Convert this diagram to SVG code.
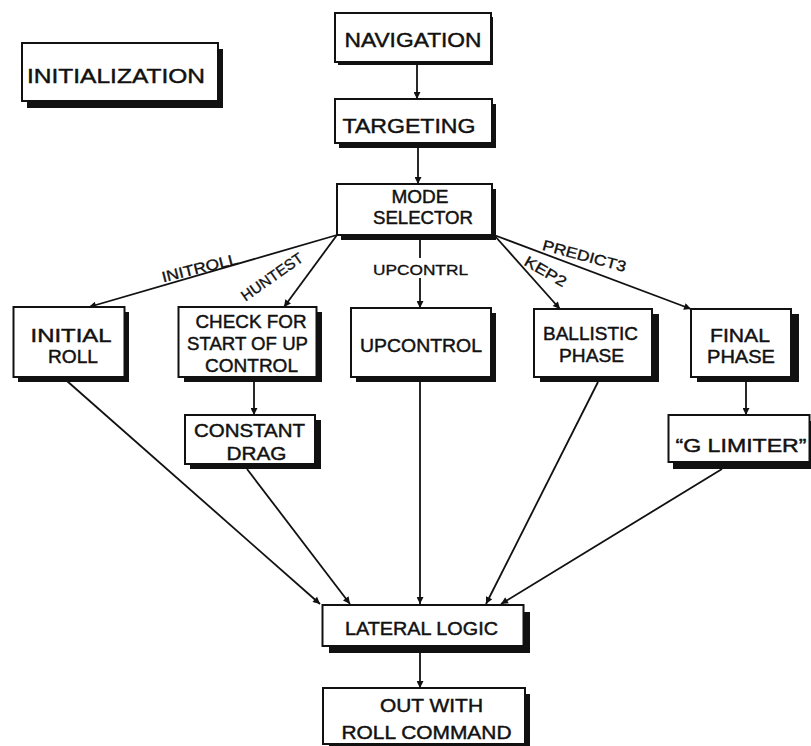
<svg xmlns="http://www.w3.org/2000/svg" width="811" height="746" viewBox="0 0 811 746">
  <defs>
    <marker id="arrow" viewBox="0 0 10 10" refX="10" refY="5" markerWidth="9" markerHeight="7" markerUnits="userSpaceOnUse" orient="auto">
      <path d="M0,0 L10,5 L0,10 z" fill="#111"/>
    </marker>
  </defs>
  <style>
    .shadow { fill: #111; }
    .box { fill: #fff; stroke: #111; stroke-width: 2; }
    .t { font-family: "Liberation Sans", Arial, sans-serif; font-size: 19px; fill: #111; stroke: #111; stroke-width: 0.45; text-anchor: middle; }
    .big { font-size: 21px; }
    .lbl { font-family: "Liberation Sans", Arial, sans-serif; font-size: 15px; fill: #111; stroke: #111; stroke-width: 0.35; text-anchor: middle; }
    .link { fill: none; stroke: #111; stroke-width: 1.8; }
    .link.arr { marker-end: url(#arrow); }
  </style>
  <rect width="811" height="746" fill="#fff"/>

  <!-- connectors -->
  <g id="connectors">
    <line class="link arr" x1="417" y1="64" x2="417" y2="99"/>
    <line class="link arr" x1="418" y1="145" x2="418" y2="184"/>
    <line class="link arr" x1="337" y1="235" x2="89" y2="307"/>
    <line class="link arr" x1="337" y1="235" x2="284" y2="307"/>
    <line class="link" x1="420" y1="235" x2="420" y2="258"/>
    <line class="link arr" x1="420" y1="278" x2="420" y2="308"/>
    <line class="link arr" x1="494" y1="235" x2="560" y2="309"/>
    <line class="link arr" x1="494" y1="235" x2="691" y2="309"/>
    <line class="link arr" x1="254" y1="382" x2="254" y2="415"/>
    <line class="link arr" x1="746" y1="382" x2="746" y2="415"/>
    <line class="link arr" x1="67" y1="381" x2="320" y2="604"/>
    <line class="link arr" x1="247" y1="469" x2="350" y2="604"/>
    <line class="link arr" x1="420" y1="382" x2="420" y2="604"/>
    <line class="link arr" x1="598" y1="382" x2="486" y2="604"/>
    <line class="link arr" x1="722" y1="469" x2="501" y2="604"/>
    <line class="link arr" x1="420" y1="653" x2="420" y2="688"/>

    <!-- branch labels -->
    <text class="lbl" transform="translate(201,273) rotate(-14)" textLength="78" lengthAdjust="spacingAndGlyphs">INITROLL</text>
    <text class="lbl" transform="translate(275,281) rotate(-35)" textLength="72" lengthAdjust="spacingAndGlyphs">HUNTEST</text>
    <text class="lbl" x="420.5" y="275" textLength="95" lengthAdjust="spacingAndGlyphs">UPCONTRL</text>
    <text class="lbl" transform="translate(583,261) rotate(15)" textLength="86" lengthAdjust="spacingAndGlyphs">PREDICT3</text>
    <text class="lbl" transform="translate(543,276) rotate(30)" textLength="46" lengthAdjust="spacingAndGlyphs">KEP2</text>
  </g>

  <g id="initialization">
    <rect class="shadow" x="27" y="49" width="196" height="59"/>
    <rect class="box" x="22" y="43" width="196" height="58"/>
    <text class="t big" x="116" y="83" textLength="178" lengthAdjust="spacingAndGlyphs">INITIALIZATION</text>
  </g>

  <g id="navigation">
    <rect class="shadow" x="338" y="17" width="155" height="48"/>
    <rect class="box" x="335" y="13" width="156" height="49"/>
    <text class="t big" x="413" y="47" textLength="137" lengthAdjust="spacingAndGlyphs">NAVIGATION</text>
  </g>

  <g id="targeting">
    <rect class="shadow" x="339" y="104" width="157" height="44"/>
    <rect class="box" x="335" y="99" width="157" height="44"/>
    <text class="t big" x="409" y="133" textLength="133" lengthAdjust="spacingAndGlyphs">TARGETING</text>
  </g>

  <g id="mode-selector">
    <rect class="shadow" x="341" y="189" width="155" height="51"/>
    <rect class="box" x="337" y="184" width="155" height="51"/>
    <text class="t" x="420" y="203" textLength="57" lengthAdjust="spacingAndGlyphs">MODE</text>
    <text class="t" x="423" y="224" textLength="100" lengthAdjust="spacingAndGlyphs">SELECTOR</text>
  </g>

  <g id="initial-roll">
    <rect class="shadow" x="18" y="312" width="111" height="70"/>
    <rect class="box" x="13.5" y="307" width="111" height="70"/>
    <text class="t" x="71" y="342" textLength="81" lengthAdjust="spacingAndGlyphs">INITIAL</text>
    <text class="t" x="73" y="363" textLength="50" lengthAdjust="spacingAndGlyphs">ROLL</text>
  </g>

  <g id="check-for-start">
    <rect class="shadow" x="184" y="312" width="138" height="70"/>
    <rect class="box" x="178.5" y="307" width="138" height="70"/>
    <text class="t" x="251" y="327.5" textLength="111" lengthAdjust="spacingAndGlyphs">CHECK FOR</text>
    <text class="t" x="247.5" y="350" textLength="121" lengthAdjust="spacingAndGlyphs">START OF UP</text>
    <text class="t" x="251.5" y="372" textLength="93" lengthAdjust="spacingAndGlyphs">CONTROL</text>
  </g>

  <g id="upcontrol">
    <rect class="shadow" x="356" y="313" width="140" height="69"/>
    <rect class="box" x="351" y="308" width="140" height="69"/>
    <text class="t" x="421" y="352" textLength="122" lengthAdjust="spacingAndGlyphs">UPCONTROL</text>
  </g>

  <g id="ballistic-phase">
    <rect class="shadow" x="540" y="314" width="119" height="68"/>
    <rect class="box" x="534" y="309" width="118" height="68"/>
    <text class="t" x="590.5" y="340" textLength="95" lengthAdjust="spacingAndGlyphs">BALLISTIC</text>
    <text class="t" x="591.5" y="362" textLength="65" lengthAdjust="spacingAndGlyphs">PHASE</text>
  </g>

  <g id="final-phase">
    <rect class="shadow" x="697" y="314" width="102" height="68"/>
    <rect class="box" x="691" y="309" width="100" height="68"/>
    <text class="t" x="740" y="342" textLength="60" lengthAdjust="spacingAndGlyphs">FINAL</text>
    <text class="t" x="741" y="363" textLength="68" lengthAdjust="spacingAndGlyphs">PHASE</text>
  </g>

  <g id="constant-drag">
    <rect class="shadow" x="190" y="420" width="131" height="49"/>
    <rect class="box" x="185" y="415" width="130" height="49"/>
    <text class="t" x="249.5" y="437" textLength="111" lengthAdjust="spacingAndGlyphs">CONSTANT</text>
    <text class="t" x="256.5" y="459.5" textLength="60" lengthAdjust="spacingAndGlyphs">DRAG</text>
  </g>

  <g id="g-limiter">
    <rect class="shadow" x="673" y="421" width="141" height="48"/>
    <rect class="box" x="668.5" y="415" width="141" height="47"/>
    <text class="t" x="741" y="452" textLength="131" lengthAdjust="spacingAndGlyphs">“G LIMITER”</text>
  </g>

  <g id="lateral-logic">
    <rect class="shadow" x="329" y="612" width="201" height="41"/>
    <rect class="box" x="322.5" y="605" width="201" height="41"/>
    <text class="t" x="421.5" y="635" textLength="153" lengthAdjust="spacingAndGlyphs">LATERAL LOGIC</text>
  </g>

  <g id="out-with-roll-command">
    <rect class="shadow" x="329" y="694" width="201" height="58"/>
    <rect class="box" x="323" y="688" width="202" height="56"/>
    <text class="t" x="431.5" y="712" textLength="103" lengthAdjust="spacingAndGlyphs">OUT WITH</text>
    <text class="t" x="426.5" y="738.5" textLength="170" lengthAdjust="spacingAndGlyphs">ROLL COMMAND</text>
  </g>
</svg>
